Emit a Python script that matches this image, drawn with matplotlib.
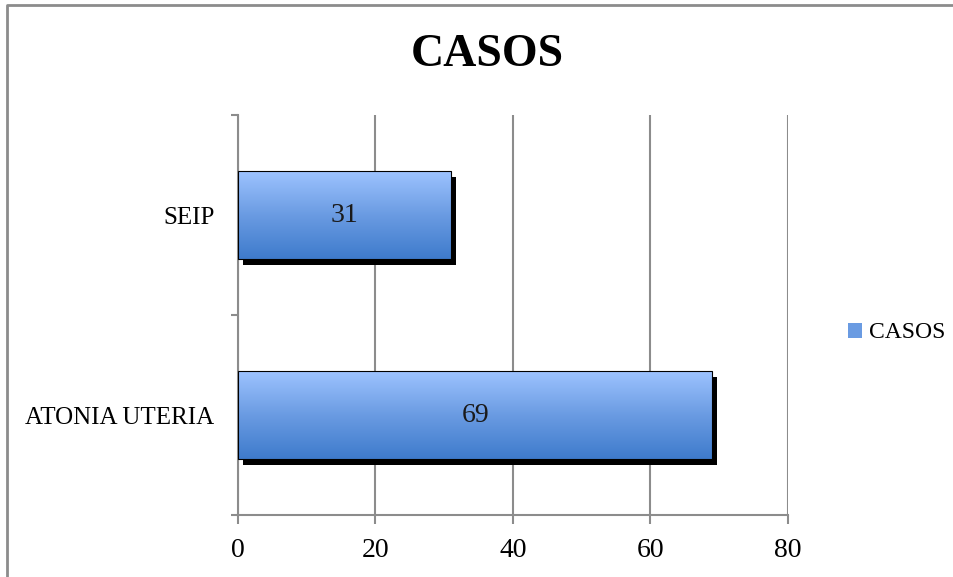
import numpy as np
import matplotlib
matplotlib.use('Agg')
import matplotlib.pyplot as plt
import matplotlib.transforms as mtransforms
from matplotlib.colors import LinearSegmentedColormap
from matplotlib.patches import Rectangle
from matplotlib.lines import Line2D

plt.rcParams['font.family'] = ['Liberation Serif', 'DejaVu Serif']

# Datos
categorias = ['ATONIA UTERIA', 'SEIP']
casos = [69, 31]
serie = 'CASOS'
ticks_x = [0, 20, 40, 60, 80]

gris = '#8c8c8c'
grad = LinearSegmentedColormap.from_list('azul', ['#3e7bcc', '#6a9be2', '#9dc3ff'])

fig = plt.figure(figsize=(9.54, 5.77), dpi=100)
ax = fig.add_axes([238 / 954, 62 / 577, 550 / 954, 400 / 577])

alto = 0.44
y = np.arange(len(categorias))

# sombra negra desplazada
sombra = mtransforms.offset_copy(ax.transData, fig=fig, x=5, y=-6, units='dots')
for yi, v in zip(y, casos):
    ax.add_patch(Rectangle((0, yi - alto / 2), v, alto, facecolor='black',
                           edgecolor='none', transform=sombra, zorder=2))

# barras con degradado vertical
gradiente = np.linspace(0, 1, 256).reshape(-1, 1)
for yi, v in zip(y, casos):
    ax.imshow(gradiente, cmap=grad, aspect='auto', origin='lower',
              extent=[0, v, yi - alto / 2, yi + alto / 2], zorder=3,
              interpolation='bilinear')
    ax.add_patch(Rectangle((0, yi - alto / 2), v, alto, facecolor='none',
                           edgecolor='black', linewidth=0.8, zorder=4))
    ax.text(v / 2, yi, str(v), ha='center', va='center', fontsize=20,
            color='#1a1a1a', zorder=5)

ax.set_xlim(0, 80)
ax.set_ylim(-0.5, 1.5)
ax.set_xticks(ticks_x)
ax.set_xticklabels([str(t) for t in ticks_x], fontsize=20)
ax.set_yticks(y)
ax.set_yticklabels(categorias, fontsize=18)
ax.set_yticks([-0.5, 0.5, 1.5], minor=True)

ax.tick_params(axis='x', length=6.5, width=1.5, color=gris, pad=10)
ax.tick_params(axis='y', which='major', length=0, pad=17)
ax.tick_params(axis='y', which='minor', length=5, width=1.5, color=gris)

ax.grid(axis='x', color=gris, linewidth=1.5, zorder=1)
ax.set_axisbelow(True)
for lado in ['top', 'right']:
    ax.spines[lado].set_visible(False)
for lado in ['left', 'bottom']:
    ax.spines[lado].set_color(gris)
    ax.spines[lado].set_linewidth(1.5)

fig.text(487 / 954, 1 - 55 / 577, serie, ha='center', va='center',
         fontsize=33, fontweight='bold')

muestra = Rectangle((0, 0), 1, 1, facecolor='#6a9be2', edgecolor='none')
fig.legend([muestra], [serie], loc='center left', bbox_to_anchor=(0.876, 0.423),
           frameon=False, fontsize=17, handlelength=0.6, handleheight=0.6,
           handletextpad=0.3, borderpad=0)

# marco del área del gráfico
fig.add_artist(Line2D([7 / 954, 7 / 954, 1], [0, 1 - 5 / 577, 1 - 5 / 577],
                      transform=fig.transFigure, color=gris, linewidth=2))

fig.savefig('out.png', dpi=100)
